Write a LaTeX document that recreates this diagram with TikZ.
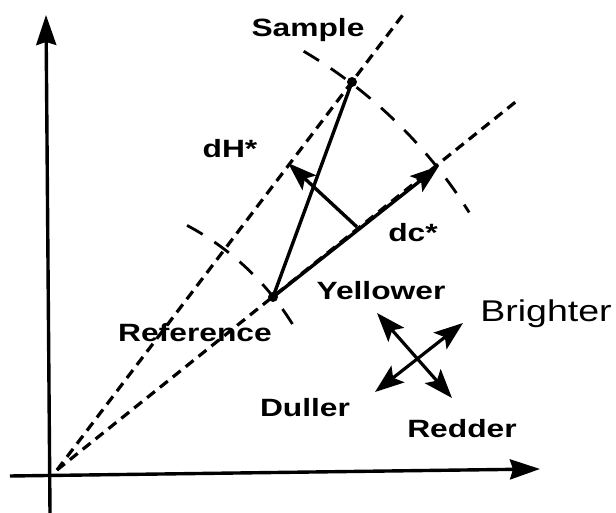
\documentclass[tikz,border=0pt]{standalone}
\usepackage{fontspec}
\setmainfont{Liberation Sans}
\usetikzlibrary{arrows.meta,positioning,calc}

\begin{document}
\begin{tikzpicture}[x=1pt,y=1pt,
  axis/.style={line width=3.4pt,-{Stealth[length=30pt,width=20pt,inset=3pt]}},
  ray/.style={line width=3.2pt,dash pattern=on 10pt off 6.5pt},
  huearc/.style={line width=2.8pt,dash pattern=on 18pt off 14pt},
  vec/.style={line width=3.4pt,-{Stealth[length=29pt,width=20pt,inset=6pt]}},
  dirarrow/.style={line width=3.2pt,{Stealth[length=29pt,width=21pt,inset=6pt]}-{Stealth[length=29pt,width=21pt,inset=6pt]}},
  lbl/.style={font=\fontsize{25}{25}\selectfont\bfseries,xscale=1.27,inner sep=0pt,anchor=base},
  ]
\useasboundingbox (0,0) rectangle (616,513);

% points
\coordinate (O) at (57,43);
\coordinate (S) at (352,431);
\coordinate (R) at (273,216);
\coordinate (C) at (439,347);
\coordinate (F) at (357,286);
\coordinate (H) at (288,350);
\coordinate (U) at (405,501);
\coordinate (L) at (518,413);

% axes
\coordinate (xa) at (10,37);
\coordinate (xb) at (540,44);
\coordinate (ya) at (50,0);
\coordinate (yb) at (46,498);
\draw[axis] (xa) -- (xb);
\draw[axis] (ya) -- (yb);

% hue angle rays
\draw[ray] (O) -- (U);
\draw[ray] (O) -- (L);

% constant chroma arcs
\draw[huearc] (O) ++(59.5:486) arc[start angle=59.5,end angle=32,radius=486];
\draw[huearc] (O) ++(62:277) arc[start angle=62,end angle=29,radius=277];

% difference vectors
\draw[line width=3.4pt] (R) -- (S);
\draw[vec] (R) -- (C);
\draw[vec] (F) -- (H);
\fill (S) circle (5pt);
\fill (R) circle (5pt);

% direction cross
\coordinate (yel) at (377,200);
\coordinate (red) at (452,115);
\coordinate (dul) at (375,121);
\coordinate (bri) at (463,190);
\draw[dirarrow] (yel) -- (red);
\draw[dirarrow] (dul) -- (bri);

% labels
\node[lbl] (sample) at (308,476) {Sample};
\node[lbl] (dh) at (230,355) {dH*};
\node[lbl] (dc) at (413,271) {dc*};
\node[lbl] (yellower) at (381,213) {Yellower};
\node[lbl] (reference) at (195,171) {Reference};
\node[lbl] (duller) at (305,96) {Duller};
\node[lbl] (redder) at (462,75) {Redder};
\node[font=\fontsize{30}{30}\selectfont,xscale=1.25,inner sep=0pt,anchor=base] (brighter) at (546,191) {Brighter};
\end{tikzpicture}
\end{document}
